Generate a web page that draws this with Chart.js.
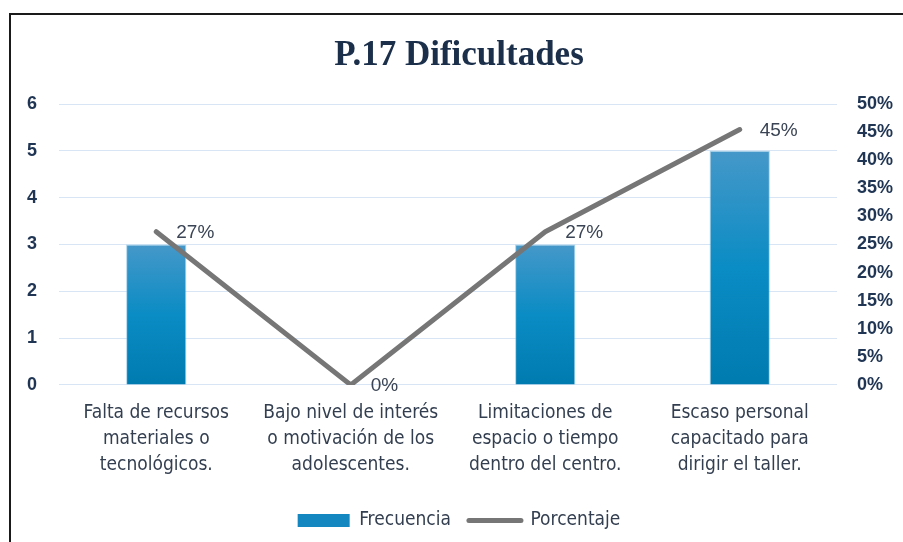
<!DOCTYPE html>
<html lang="es">
<head>
    <meta charset="UTF-8">
    <title>P.17 Dificultades</title>
    <script src="https://cdn.jsdelivr.net/npm/chart.js"></script>
    <style>
        html, body { margin: 0; padding: 0; background: #fff; overflow: hidden; }
        #marco { position: absolute; left: 9px; top: 13px; width: 1000px; height: 600px;
                 border-top: 2px solid #1a1a1a; border-left: 2px solid #1a1a1a; }
        #caja { position: absolute; left: 0; top: 0; width: 920px; height: 542px; }
    </style>
</head>
<body>
    <div id="marco"></div>
    <div id="caja"><canvas id="dificultadesChart"></canvas></div>

<script>
    // datos del gráfico
    const categorias = [
        ['Falta de recursos', 'materiales o', 'tecnológicos.'],
        ['Bajo nivel de interés', 'o motivación de los', 'adolescentes.'],
        ['Limitaciones de', 'espacio o tiempo', 'dentro del centro.'],
        ['Escaso personal', 'capacitado para', 'dirigir el taller.']
    ];
    const frecuencia = [3, 0, 3, 5];
    const porcentaje = [0.2727, 0, 0.2727, 0.4545];
    const etiquetasPorcentaje = ['27%', '0%', '27%', '45%'];

    const textoOscuro = '#1f3553';
    const fuenteEstrecha = '"Liberation Sans Narrow", "DejaVu Sans Condensed", Roboto, sans-serif';

    // degradado de cada barra (claro arriba, oscuro abajo)
    function colorBarra(context) {
        const chart = context.chart;
        if (!chart.chartArea || context.parsed === undefined) return '#0a8cc4';
        const y = chart.scales.y;
        const top = y.getPixelForValue(context.parsed.y || 0.0001);
        const bottom = y.getPixelForValue(0);
        const g = chart.ctx.createLinearGradient(0, top, 0, bottom);
        g.addColorStop(0, '#4598c9');
        g.addColorStop(0.5, '#0a8cc4');
        g.addColorStop(1, '#007bb0');
        return g;
    }

    // etiquetas de porcentaje a la derecha de cada punto
    const etiquetasPlugin = {
        id: 'etiquetasPlugin',
        afterDatasetsDraw(chart) {
            const meta = chart.getDatasetMeta(1);
            const ctx = chart.ctx;
            ctx.save();
            ctx.font = '19px "Liberation Sans", Arial, sans-serif';
            ctx.fillStyle = '#3a4454';
            ctx.textAlign = 'left';
            ctx.textBaseline = 'middle';
            meta.data.forEach((pt, i) => {
                ctx.fillText(etiquetasPorcentaje[i], pt.x + 20, pt.y + 1);
            });
            ctx.restore();
        }
    };

    const ctx = document.getElementById('dificultadesChart').getContext('2d');
    new Chart(ctx, {
        data: {
            labels: categorias,
            datasets: [
                {
                    type: 'bar',
                    label: 'Frecuencia',
                    data: frecuencia,
                    yAxisID: 'y',
                    backgroundColor: colorBarra,
                    borderColor: 'rgba(120, 185, 225, 0.6)',
                    borderWidth: 1,
                    categoryPercentage: 1,
                    barPercentage: 0.31,
                    order: 1
                },
                {
                    type: 'line',
                    label: 'Porcentaje',
                    data: porcentaje,
                    yAxisID: 'y1',
                    borderColor: '#767676',
                    backgroundColor: '#767676',
                    borderWidth: 5,
                    borderCapStyle: 'round',
                    borderJoinStyle: 'round',
                    pointRadius: 0,
                    pointStyle: 'line',
                    tension: 0,
                    order: 0
                }
            ]
        },
        options: {
            responsive: true,
            maintainAspectRatio: false,
            animation: false,
            layout: { padding: { left: 5, right: 7, top: 0, bottom: 2 } },
            plugins: {
                title: {
                    display: true,
                    text: 'P.17 Dificultades',
                    color: '#1b2f4b',
                    font: { family: '"Liberation Serif", "Times New Roman", serif', size: 35, weight: 'bold' },
                    padding: { top: 35, bottom: 27 }
                },
                legend: {
                    position: 'bottom',
                    labels: {
                        usePointStyle: true,
                        pointStyleWidth: 52,
                        boxHeight: 13,
                        padding: 18,
                        color: '#333f50',
                        font: { family: fuenteEstrecha, size: 19 },
                        sort: (a, b) => a.datasetIndex - b.datasetIndex,
                        generateLabels(chart) {
                            const items = Chart.defaults.plugins.legend.labels.generateLabels(chart);
                            items.forEach(it => {
                                if (it.datasetIndex === 0) {
                                    it.pointStyle = 'rect';
                                    it.fillStyle = '#1587c0';
                                    it.strokeStyle = '#1587c0';
                                    it.lineWidth = 0;
                                } else {
                                    it.pointStyle = 'line';
                                    it.strokeStyle = '#767676';
                                    it.lineWidth = 5;
                                    it.lineCap = 'round';
                                }
                            });
                            return items;
                        }
                    }
                },
                tooltip: { enabled: false }
            },
            scales: {
                x: {
                    grid: { display: false, drawTicks: false },
                    border: { display: false },
                    ticks: {
                        color: '#333f50',
                        padding: 15,
                        maxRotation: 0,
                        autoSkip: false,
                        font: { family: fuenteEstrecha, size: 19, lineHeight: 1.37 }
                    }
                },
                y: {
                    position: 'left',
                    min: 0,
                    max: 6,
                    grid: { color: '#d8e5f5', lineWidth: 1, drawTicks: false },
                    border: { display: false },
                    ticks: {
                        stepSize: 1,
                        padding: 22,
                        color: textoOscuro,
                        font: { family: '"Liberation Sans", Arial, sans-serif', size: 18, weight: 'bold' }
                    }
                },
                y1: {
                    position: 'right',
                    min: 0,
                    max: 0.5,
                    grid: { display: false, drawTicks: false },
                    border: { display: false },
                    ticks: {
                        stepSize: 0.05,
                        padding: 20,
                        color: textoOscuro,
                        font: { family: '"Liberation Sans", Arial, sans-serif', size: 18, weight: 'bold' },
                        callback: v => Math.round(v * 100) + '%'
                    }
                }
            }
        },
        plugins: [etiquetasPlugin]
    });
</script>
</body>
</html>
